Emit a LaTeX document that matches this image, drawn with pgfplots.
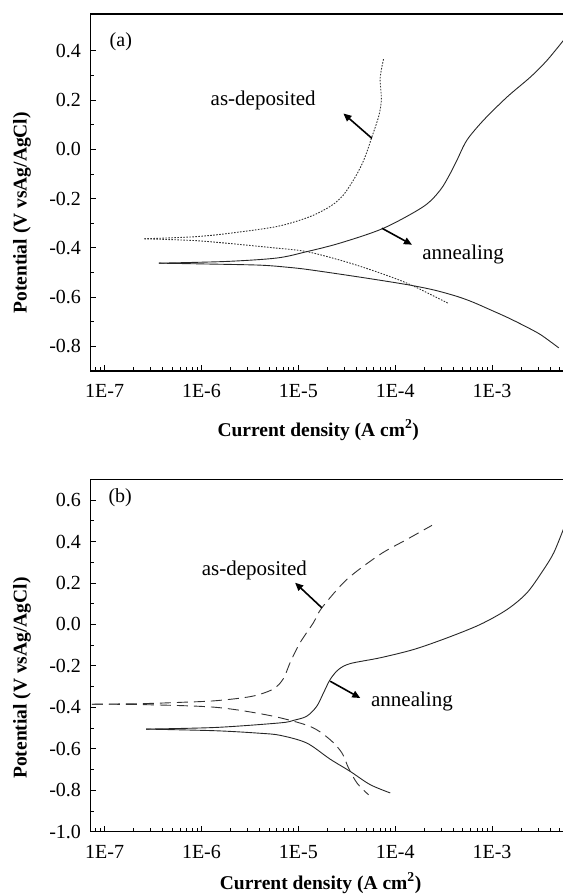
\documentclass[border=0pt]{standalone}
\usepackage{fontspec}
\setmainfont{Liberation Serif}
\usepackage{pgfplots}
\pgfplotsset{compat=1.18}
\usetikzlibrary{arrows.meta}

\tikzset{
  solidc/.style={black!85,line width=0.9pt,smooth,tension=0.5},
  dotc/.style={black!80,line width=0.9pt,dash pattern=on 1.6pt off 1.4pt,smooth,tension=0.5},
  dashc/.style={black!80,line width=0.9pt,dash pattern=on 11pt off 6pt,smooth,tension=0.5},
  arr/.style={-{Triangle[length=8pt,width=7pt]},line width=1.6pt},
  lab/.style={font=\fontsize{21}{25}\selectfont},
  axlab/.style={font=\bfseries\fontsize{19.5}{23}\selectfont},
}

\pgfplotsset{
  every axis/.append style={
    scale only axis, width=472.5pt,
    xmin=7.15e-8, xmax=5.4e-3,
    axis x line*=box, axis y line*=left,
    xtick pos=bottom,
    axis line style={line width=1.1pt,black,-},
    tick align=inside,
    major tick length=5.5pt, minor tick length=3.5pt,
    tick style={line width=0.9pt,black},
    xtick={1e-7,1e-6,1e-5,1e-4,1e-3},
    xticklabels={1E-7,1E-6,1E-5,1E-4,1E-3},
    minor xtick={8e-8,9e-8,
      2e-7,3e-7,4e-7,5e-7,6e-7,7e-7,8e-7,9e-7,
      2e-6,3e-6,4e-6,5e-6,6e-6,7e-6,8e-6,9e-6,
      2e-5,3e-5,4e-5,5e-5,6e-5,7e-5,8e-5,9e-5,
      2e-4,3e-4,4e-4,5e-4,6e-4,7e-4,8e-4,9e-4,
      2e-3,3e-3,4e-3,5e-3},
    minor y tick num=1,
    tick label style={font=\fontsize{20}{24}\selectfont},
    xticklabel style={yshift=-10pt},
    yticklabel style={xshift=-6pt},
    xlabel={Current density (A cm\textsuperscript{2})},
    ylabel={Potential (V vsAg/AgCl)},
  }
}

\begin{document}
\begin{tikzpicture}
\path[use as bounding box] (0pt,0pt) rectangle (563pt,-895pt);

% (a)
\begin{semilogxaxis}[
  at={(90.5pt,-14pt)}, anchor=north west, height=357pt,
  ymin=-0.9, ymax=0.55,
  ytick={-0.8,-0.6,-0.4,-0.2,0,0.2,0.4},
  yticklabels={-0.8,-0.6,-0.4,-0.2,0.0,0.2,0.4},
  every axis y label/.style={axlab,at={(axis description cs:-0.145,0.443)},rotate=90,anchor=center},
  every axis x label/.style={axlab,at={(axis description cs:0.482,-0.165)},anchor=center}]
% as-deposited, anodic
\addplot[dotc] coordinates {
 (2.57e-7,-0.363) (8.3e-7,-0.355) (1.82e-6,-0.342) (6.03e-6,-0.313) (1.32e-5,-0.273)
 (2.2e-5,-0.228) (2.92e-5,-0.185) (3.7e-5,-0.125) (4.39e-5,-0.072) (5.0e-5,-0.020)
 (5.75e-5,0.051) (6.73e-5,0.132) (7.2e-5,0.200) (7.0e-5,0.290) (7.59e-5,0.368)};
% as-deposited, cathodic
\addplot[dotc] coordinates {
 (2.57e-7,-0.363) (8.3e-7,-0.370) (1.82e-6,-0.381) (6.0e-6,-0.401) (1.22e-5,-0.415)
 (3.0e-5,-0.455) (6.98e-5,-0.502) (1.43e-4,-0.549) (3.56e-4,-0.626)};
% annealing, anodic
\addplot[solidc] coordinates {
 (3.63e-7,-0.462) (1.82e-6,-0.455) (6.03e-6,-0.441) (1.23e-5,-0.415) (2.72e-5,-0.380)
 (7.59e-5,-0.320) (1.96e-4,-0.232) (2.92e-4,-0.165) (3.71e-4,-0.097) (4.35e-4,-0.043)
 (5.51e-4,0.038) (8.18e-4,0.119) (1.43e-3,0.213) (2.49e-3,0.294) (3.70e-3,0.362)
 (5.46e-3,0.443)};
% annealing, cathodic
\addplot[solidc] coordinates {
 (3.63e-7,-0.462) (1.0e-6,-0.465) (3.98e-6,-0.470) (7.94e-6,-0.479) (1.32e-5,-0.489)
 (4.37e-5,-0.519) (1.32e-4,-0.549) (2.51e-4,-0.571) (4.35e-4,-0.597) (6.31e-4,-0.620)
 (9.55e-4,-0.651) (1.45e-3,-0.683) (2.14e-3,-0.716) (3.16e-3,-0.752) (4.88e-3,-0.806)};
\draw[arr] (axis cs:5.75e-5,0.045) -- (axis cs:2.92e-5,0.146);
\draw[arr] (axis cs:7.29e-5,-0.320) -- (axis cs:1.49e-4,-0.387);
\node[lab] at (axis cs:4.34e-6,0.2) {as-deposited};
\node[lab] at (axis cs:5.03e-4,-0.427) {annealing};
\node[font=\fontsize{20}{24}\selectfont] at (axis cs:1.47e-7,0.437) {(a)};
\end{semilogxaxis}

% (b)
\begin{semilogxaxis}[
  at={(90.5pt,-479.3pt)}, anchor=north west, height=352.4pt,
  ymin=-1.0, ymax=0.7,
  ytick={-1.0,-0.8,-0.6,-0.4,-0.2,0,0.2,0.4,0.6},
  yticklabels={-1.0,-0.8,-0.6,-0.4,-0.2,0.0,0.2,0.4,0.6},
  every axis y label/.style={axlab,at={(axis description cs:-0.145,0.436)},rotate=90,anchor=center},
  every axis x label/.style={axlab,at={(axis description cs:0.487,-0.146)},anchor=center}]
% as-deposited, anodic
\addplot[dashc] coordinates {
 (7.41e-8,-0.385) (2.51e-7,-0.382) (6.03e-7,-0.376) (1.41e-6,-0.368) (3.31e-6,-0.347)
 (5.50e-6,-0.312) (7.0e-6,-0.262) (8.3e-6,-0.180) (1.04e-5,-0.089) (1.43e-5,0.008)
 (1.75e-5,0.080) (3.17e-5,0.217) (7.0e-5,0.338) (1.32e-4,0.410) (2.40e-4,0.478)};
% as-deposited, cathodic
\addplot[dashc] coordinates {
 (7.41e-8,-0.385) (2.57e-7,-0.387) (1.41e-6,-0.400) (5.13e-6,-0.440) (1.32e-5,-0.492)
 (2.13e-5,-0.556) (2.82e-5,-0.620) (3.30e-5,-0.693) (4.03e-5,-0.765) (5.31e-5,-0.822)};
% annealing, anodic
\addplot[solidc] coordinates {
 (2.69e-7,-0.505) (1.41e-6,-0.497) (6.49e-6,-0.475) (8.89e-6,-0.463) (1.22e-5,-0.443)
 (1.55e-5,-0.395) (1.82e-5,-0.330) (2.13e-5,-0.266) (2.59e-5,-0.218) (3.43e-5,-0.189)
 (7.0e-5,-0.161) (1.55e-4,-0.121) (3.43e-4,-0.065) (7.57e-4,0.0) (1.43e-3,0.072)
 (2.30e-3,0.153) (3.41e-3,0.265) (4.34e-3,0.346) (5.46e-3,0.460)};
% annealing, cathodic
\addplot[solidc] coordinates {
 (2.69e-7,-0.505) (1.41e-6,-0.513) (4.0e-6,-0.525) (6.49e-6,-0.535) (1.22e-5,-0.572)
 (2.13e-5,-0.650) (3.43e-5,-0.709) (5.52e-5,-0.773) (8.89e-5,-0.813)};
\draw[arr] (axis cs:1.75e-5,0.080) -- (axis cs:9.27e-6,0.201);
\draw[arr] (axis cs:2.13e-5,-0.274) -- (axis cs:4.36e-5,-0.355);
\node[lab] at (axis cs:3.52e-6,0.262) {as-deposited};
\node[lab] at (axis cs:1.49e-4,-0.371) {annealing};
\node[font=\fontsize{20}{24}\selectfont] at (axis cs:1.45e-7,0.613) {(b)};
\end{semilogxaxis}
\end{tikzpicture}
\end{document}
